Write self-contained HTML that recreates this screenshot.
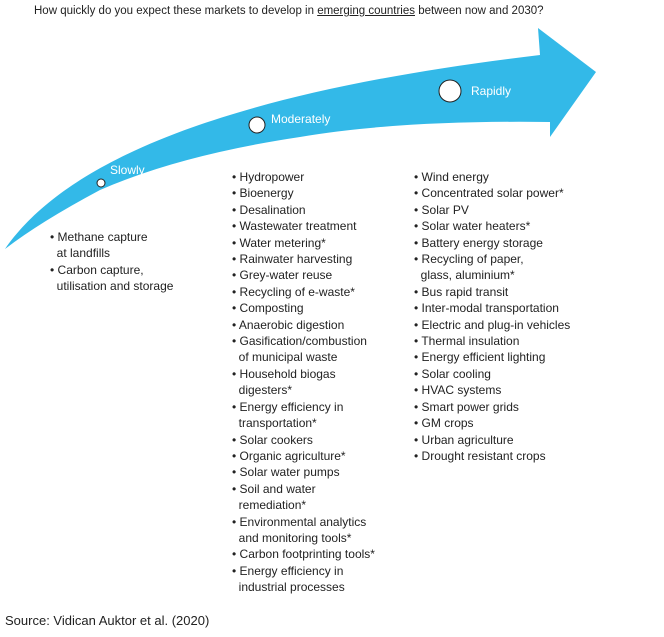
<!DOCTYPE html>
<html><head><style>
body{margin:0;width:664px;height:637px;background:#fff;font-family:"Liberation Sans",sans-serif;color:#222;position:relative;overflow:hidden}
.t{position:absolute;font-size:11.5px;line-height:16.4px;white-space:nowrap}
.l{position:absolute;font-size:12px;line-height:16.4px;white-space:nowrap}
</style></head><body>
<div class="t" style="left:34px;top:3px;font-size:11.5px">How quickly do you expect these markets to develop in <u>emerging countries</u> between now and 2030?</div>
<svg width="664" height="637" style="position:absolute;left:0;top:0">
<path d="M5,249 C60,170 200,95 540,55 L538,28 L596,72 L550,137 L550,122 Q400,120 300,137 Q180,155 100,190 Q40,222 5,249 Z" fill="#33b9e8"/>
<circle cx="101" cy="183" r="4" fill="#fff" stroke="#222" stroke-width="1"/>
<circle cx="257" cy="125" r="8" fill="#fff" stroke="#222" stroke-width="1"/>
<circle cx="450" cy="91" r="11" fill="#fff" stroke="#222" stroke-width="1"/>
<text x="110" y="174" fill="#fff" font-size="12" font-family="Liberation Sans">Slowly</text>
<text x="271" y="123" fill="#fff" font-size="12" font-family="Liberation Sans">Moderately</text>
<text x="471" y="95" fill="#fff" font-size="12" font-family="Liberation Sans">Rapidly</text>
</svg>
<div class="l" style="left:50px;top:229px">• Methane capture<br>&nbsp;&nbsp;at landfills<br>• Carbon capture,<br>&nbsp;&nbsp;utilisation and storage</div>
<div class="l" style="left:232px;top:169px">• Hydropower<br>• Bioenergy<br>• Desalination<br>• Wastewater treatment<br>• Water metering*<br>• Rainwater harvesting<br>• Grey-water reuse<br>• Recycling of e-waste*<br>• Composting<br>• Anaerobic digestion<br>• Gasification/combustion<br>&nbsp;&nbsp;of municipal waste<br>• Household biogas<br>&nbsp;&nbsp;digesters*<br>• Energy efficiency in<br>&nbsp;&nbsp;transportation*<br>• Solar cookers<br>• Organic agriculture*<br>• Solar water pumps<br>• Soil and water<br>&nbsp;&nbsp;remediation*<br>• Environmental analytics<br>&nbsp;&nbsp;and monitoring tools*<br>• Carbon footprinting tools*<br>• Energy efficiency in<br>&nbsp;&nbsp;industrial processes</div>
<div class="l" style="left:414px;top:169px">• Wind energy<br>• Concentrated solar power*<br>• Solar PV<br>• Solar water heaters*<br>• Battery energy storage<br>• Recycling of paper,<br>&nbsp;&nbsp;glass, aluminium*<br>• Bus rapid transit<br>• Inter-modal transportation<br>• Electric and plug-in vehicles<br>• Thermal insulation<br>• Energy efficient lighting<br>• Solar cooling<br>• HVAC systems<br>• Smart power grids<br>• GM crops<br>• Urban agriculture<br>• Drought resistant crops</div>
<div class="t" style="left:5px;top:613px;font-size:13px">Source: Vidican Auktor et al. (2020)</div>
</body></html>
